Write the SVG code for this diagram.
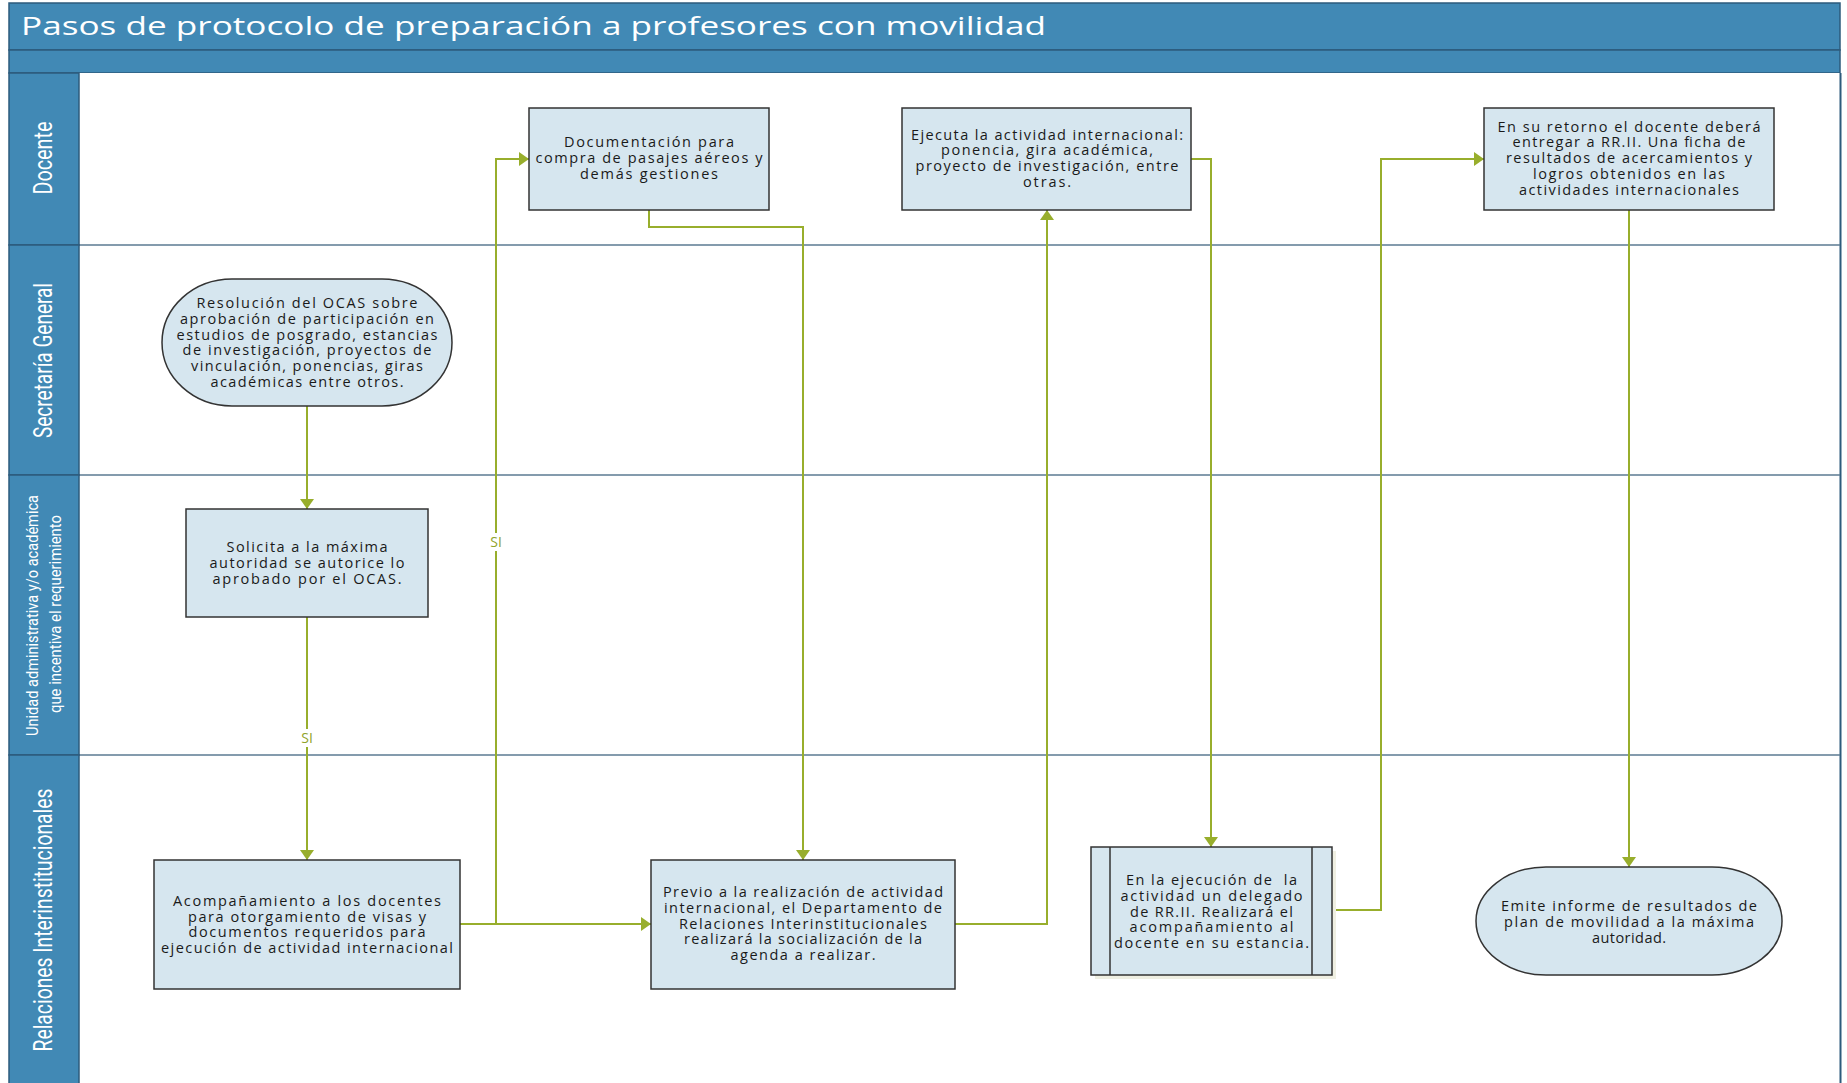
<svg xmlns="http://www.w3.org/2000/svg" width="1847" height="1083" viewBox="0 0 1847 1083">
<style>
.hdr{fill:#4189B5;stroke:#2D5B7C;stroke-width:1.5}
.sep{stroke:#5B7A92;stroke-width:1.5;fill:none}
.lane{font-family:Roboto,"Open Sans","Liberation Sans",sans-serif;font-weight:400;fill:#ffffff;text-anchor:middle}
.box{fill:#D6E6EF;stroke:#333333;stroke-width:1.5}
.t{font-family:"Open Sans","DejaVu Sans",sans-serif;font-size:14.5px;fill:#1a1a1a;text-anchor:middle}
.c{fill:none;stroke:#98AE2C;stroke-width:2}
.si{font-family:"Open Sans","DejaVu Sans",sans-serif;font-size:14px;fill:#8FA32A;text-anchor:middle}
</style>
<defs>
<marker id="arr" markerUnits="userSpaceOnUse" markerWidth="11" markerHeight="14" refX="10" refY="7" orient="auto">
<path d="M0,0 L10,7 L0,14 z" fill="#98AE2C"/>
</marker>
</defs>
<rect x="0" y="0" width="1847" height="1083" fill="#ffffff"/>
<g id="pool">
<rect class="hdr" x="9" y="3" width="1831" height="47"/>
<text x="21" y="35" font-family="'Open Sans','DejaVu Sans',sans-serif" font-size="25" fill="#ffffff" textLength="1025" lengthAdjust="spacingAndGlyphs">Pasos de protocolo de preparación a profesores con movilidad</text>
<rect class="hdr" x="9" y="50" width="1831" height="23"/>
<rect x="79" y="73" width="1761" height="1015" fill="#ffffff" stroke="none"/>
<line x1="1840.5" y1="73" x2="1840.5" y2="1083" stroke="#2D5B7C" stroke-width="2"/>
<line class="sep" x1="79" y1="245" x2="1840" y2="245"/>
<line class="sep" x1="79" y1="475" x2="1840" y2="475"/>
<line class="sep" x1="79" y1="755" x2="1840" y2="755"/>
</g>
<g id="lane-docente">
<rect class="hdr" x="9" y="73" width="70" height="172"/>
<text class="lane" font-size="25" transform="translate(52,158) rotate(-90)" textLength="73" lengthAdjust="spacingAndGlyphs">Docente</text>
</g>
<g id="lane-secretaria">
<rect class="hdr" x="9" y="245" width="70" height="230"/>
<text class="lane" font-size="25" transform="translate(52,360.5) rotate(-90)" textLength="155" lengthAdjust="spacingAndGlyphs">Secretaría General</text>
</g>
<g id="lane-unidad">
<rect class="hdr" x="9" y="475" width="70" height="280"/>
<text class="lane" font-size="17" transform="translate(38,615.5) rotate(-90)" textLength="241" lengthAdjust="spacingAndGlyphs">Unidad administrativa y/o académica</text>
<text class="lane" font-size="17" transform="translate(61,614) rotate(-90)" textLength="198" lengthAdjust="spacingAndGlyphs">que incentiva el requerimiento</text>
</g>
<g id="lane-relaciones">
<rect class="hdr" x="9" y="755" width="70" height="335"/>
<text class="lane" font-size="25" transform="translate(52,920) rotate(-90)" textLength="263" lengthAdjust="spacingAndGlyphs">Relaciones Interinstitucionales</text>
</g>
<g id="connectors">
<path class="c" d="M307,406 V509" marker-end="url(#arr)"/>
<path class="c" d="M307,617 V860" marker-end="url(#arr)"/>
<path class="c" d="M460,924 H651" marker-end="url(#arr)"/>
<path class="c" d="M496,924 V159 H529" marker-end="url(#arr)"/>
<path class="c" d="M649,210 V227 H803 V860" marker-end="url(#arr)"/>
<path class="c" d="M955,924 H1047 V210" marker-end="url(#arr)"/>
<path class="c" d="M1191,159 H1211 V847" marker-end="url(#arr)"/>
<path class="c" d="M1332,910 H1381 V159 H1484" marker-end="url(#arr)"/>
<path class="c" d="M1629,210 V867" marker-end="url(#arr)"/>
<rect x="297" y="729" width="20" height="18" fill="#ffffff"/>
<text class="si" x="307" y="743">SI</text>
<rect x="486" y="533" width="20" height="18" fill="#ffffff"/>
<text class="si" x="496" y="547">SI</text>
</g>
<g id="n-resolucion">
<rect class="box" x="162" y="279" width="290" height="127" rx="70" ry="63.5"/>
<text class="t" x="307" y="308" textLength="221">Resolución del OCAS sobre</text>
<text class="t" x="307" y="323.75" textLength="254">aprobación de participación en</text>
<text class="t" x="307" y="339.5" textLength="261">estudios de posgrado, estancias</text>
<text class="t" x="307" y="355.25" textLength="249">de investigación, proyectos de</text>
<text class="t" x="307" y="371" textLength="232">vinculación, ponencias, giras</text>
<text class="t" x="307" y="386.75" textLength="193">académicas entre otros.</text>
</g>
<g id="n-solicita">
<rect class="box" x="186" y="509" width="242" height="108"/>
<text class="t" x="307" y="552" textLength="161">Solicita a la máxima</text>
<text class="t" x="307" y="568" textLength="195">autoridad se autorice lo</text>
<text class="t" x="307" y="583.5" textLength="189">aprobado por el OCAS.</text>
</g>
<g id="n-acompanamiento">
<rect class="box" x="154" y="860" width="306" height="129"/>
<text class="t" x="307" y="906" textLength="268">Acompañamiento a los docentes</text>
<text class="t" x="307" y="921.5" textLength="238">para otorgamiento de visas y</text>
<text class="t" x="307" y="937" textLength="237">documentos requeridos para</text>
<text class="t" x="307" y="952.5" textLength="292">ejecución de actividad internacional</text>
</g>
<g id="n-documentacion">
<rect class="box" x="529" y="108" width="240" height="102"/>
<text class="t" x="649" y="147" textLength="170">Documentación para</text>
<text class="t" x="649" y="163" textLength="227">compra de pasajes aéreos y</text>
<text class="t" x="649" y="179" textLength="138">demás gestiones</text>
</g>
<g id="n-previo">
<rect class="box" x="651" y="860" width="304" height="129"/>
<text class="t" x="803" y="897" textLength="280">Previo a la realización de actividad</text>
<text class="t" x="803" y="912.7" textLength="278">internacional, el Departamento de</text>
<text class="t" x="803" y="928.5" textLength="248">Relaciones Interinstitucionales</text>
<text class="t" x="803" y="944.2" textLength="238">realizará la socialización de la</text>
<text class="t" x="803" y="960" textLength="145">agenda a realizar.</text>
</g>
<g id="n-ejecuta">
<rect class="box" x="902" y="108" width="289" height="102"/>
<text class="t" x="1047" y="139.5" textLength="272">Ejecuta la actividad internacional:</text>
<text class="t" x="1047" y="155" textLength="212">ponencia, gira académica,</text>
<text class="t" x="1047" y="171" textLength="263">proyecto de investigación, entre</text>
<text class="t" x="1047" y="186.5" textLength="48">otras.</text>
</g>
<g id="n-delegado">
<rect x="1095" y="851" width="241" height="128" fill="#EFEFE2"/>
<rect class="box" x="1091" y="847" width="241" height="128"/>
<line x1="1110" y1="847" x2="1110" y2="975" stroke="#333333" stroke-width="1.5"/>
<line x1="1312" y1="847" x2="1312" y2="975" stroke="#333333" stroke-width="1.5"/>
<text class="t" x="1211.5" y="885" textLength="171" xml:space="preserve">En la ejecución de  la</text>
<text class="t" x="1211.5" y="901" textLength="182">actividad un delegado</text>
<text class="t" x="1211.5" y="916.7" textLength="163">de RR.II. Realizará el</text>
<text class="t" x="1211.5" y="932.4" textLength="164">acompañamiento al</text>
<text class="t" x="1211.5" y="948" textLength="195">docente en su estancia.</text>
</g>
<g id="n-retorno">
<rect class="box" x="1484" y="108" width="290" height="102"/>
<text class="t" x="1629" y="131.5" textLength="263">En su retorno el docente deberá</text>
<text class="t" x="1629" y="147.3" textLength="233">entregar a RR.II. Una ficha de</text>
<text class="t" x="1629" y="163" textLength="246">resultados de acercamientos y</text>
<text class="t" x="1629" y="178.8" textLength="192">logros obtenidos en las</text>
<text class="t" x="1629" y="194.5" textLength="220">actividades internacionales</text>
</g>
<g id="n-emite">
<rect class="box" x="1476" y="867" width="306" height="108" rx="70" ry="54"/>
<text class="t" x="1629" y="911" textLength="256">Emite informe de resultados de</text>
<text class="t" x="1629" y="927" textLength="250">plan de movilidad a la máxima</text>
<text class="t" x="1629" y="942.5" textLength="74">autoridad.</text>
</g>
</svg>
